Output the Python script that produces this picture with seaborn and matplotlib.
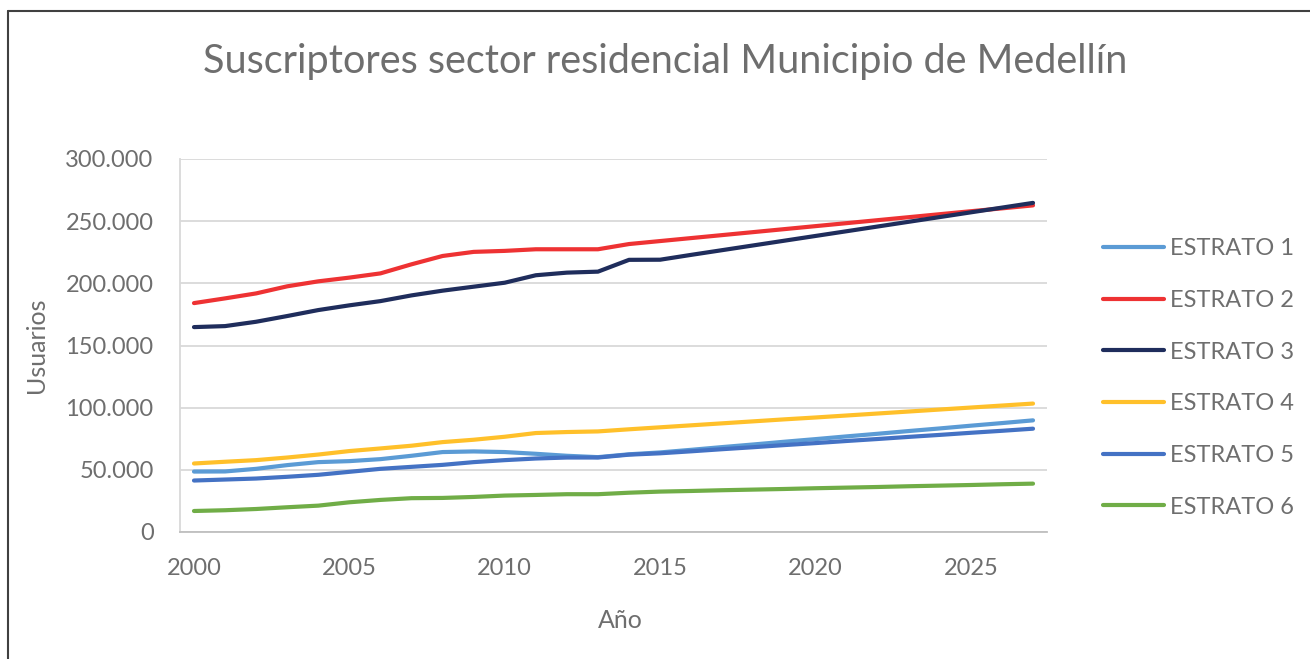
import numpy as np
import pandas as pd
import seaborn as sns
from matplotlib import pyplot as plt
from matplotlib.lines import Line2D
from matplotlib.ticker import FuncFormatter

# values (usuarios per year)
years = list(range(2000, 2028))

estrato_1 = [48600, 48700, 50800, 53800, 56200, 57000, 58600, 61300, 64300, 64800,
             64300, 62900, 61300, 60200, 62500, 64000, 66100, 68300, 70400, 72600,
             74700, 76900, 79000, 81200, 83300, 85500, 87600, 89800]
estrato_2 = [184100, 187900, 191900, 197600, 201600, 204600, 208000, 215300, 222000, 225300,
             226100, 227400, 227400, 227400, 231600, 234000, 236400, 238800, 241200, 243600,
             246000, 248400, 250800, 253200, 255600, 258000, 260300, 262700]
estrato_3 = [164800, 165600, 169100, 173700, 178500, 182300, 185700, 190300, 194100, 197300,
             200500, 206500, 208600, 209400, 218900, 219000, 222900, 226700, 230500, 234300,
             238100, 241900, 245700, 249500, 253300, 257100, 260900, 264700]
estrato_4 = [55100, 56500, 57800, 59900, 62300, 65100, 67200, 69400, 72300, 74200,
             76600, 79600, 80400, 80900, 82600, 84200, 85800, 87400, 89000, 90600,
             92100, 93700, 95300, 96900, 98500, 100100, 101700, 103300]
estrato_5 = [41400, 42200, 43000, 44400, 46000, 48400, 50800, 52400, 54000, 56200,
             57800, 59100, 59900, 59900, 62200, 63300, 64900, 66600, 68200, 69900,
             71500, 73200, 74800, 76500, 78100, 79800, 81400, 83100]
estrato_6 = [16900, 17500, 18500, 19900, 21200, 23900, 25800, 27200, 27400, 28200,
             29300, 29800, 30400, 30400, 31600, 32500, 33000, 33600, 34100, 34600,
             35200, 35700, 36200, 36800, 37300, 37800, 38400, 38900]

names = ["ESTRATO 1", "ESTRATO 2", "ESTRATO 3", "ESTRATO 4", "ESTRATO 5", "ESTRATO 6"]
colors = ["#5B9BD5", "#EE3233", "#1F2D5C", "#FFC02A", "#4472C4", "#70AD47"]

series = [estrato_1, estrato_2, estrato_3, estrato_4, estrato_5, estrato_6]
df = pd.DataFrame({
    "Año": years * len(names),
    "Usuarios": sum(series, []),
    "Estrato": [n for n in names for _ in years],
})

sns.set_style("white")
plt.rcParams['font.family'] = ['Lato', 'DejaVu Sans']
gray = "#6E6E6E"

fig = plt.figure(figsize=(13.1, 6.59), dpi=100)
ax = fig.add_axes([180/1310, 1-532/659, (1047-180)/1310, (532-159)/659])

sns.lineplot(data=df, x="Año", y="Usuarios", hue="Estrato", palette=colors,
             linewidth=3, ax=ax, legend=False)
for ln in ax.lines:
    ln.set_solid_capstyle("round")

ax.set_xlim(1999.55, 2027.45)
ax.set_ylim(0, 300000)
ax.set_yticks(np.arange(0, 300001, 50000))
ax.set_xticks([2000, 2005, 2010, 2015, 2020, 2025])
ax.yaxis.set_major_formatter(FuncFormatter(lambda v, p: f"{int(v):,}".replace(",", ".")))
ax.grid(axis="y", color="#D9D9D9", linewidth=1.3)
ax.set_axisbelow(True)

for side in ["top", "right"]:
    ax.spines[side].set_visible(False)
ax.spines["left"].set_color("#D9D9D9")
ax.spines["bottom"].set_color("#BFBFBF")
ax.spines["left"].set_linewidth(1.3)
ax.spines["bottom"].set_linewidth(1.3)

ax.tick_params(axis="y", length=0, pad=19, labelsize=17, labelcolor=gray)
ax.tick_params(axis="x", length=0, pad=19, labelsize=17, labelcolor=gray)

ax.set_xlabel("")
ax.set_ylabel("")
fig.text(36/1310, 1-345/659, "Usuarios", rotation=90, ha="center", va="center",
         fontsize=18, color=gray)
fig.text(620/1310, 1-620/659, "Año", ha="center", va="center", fontsize=18, color=gray)
fig.text(665/1310, 1-62/659, "Suscriptores sector residencial Municipio de Medellín",
         ha="center", va="center", fontsize=28.5, color=gray)

handles = [Line2D([], [], color=c, linewidth=3, solid_capstyle="round") for c in colors]
leg = fig.legend(handles, names, loc="center left", bbox_to_anchor=(1103/1310, 1-378/659),
                 frameon=False, fontsize=17, handlelength=2.6, handletextpad=0.25,
                 labelspacing=1.3, borderpad=0, borderaxespad=0)
for t in leg.get_texts():
    t.set_color(gray)

# chart border (left and top visible in the crop)
fig.add_artist(Line2D([8/1310, 8/1310], [0, 1-11/659], color="#404040", linewidth=1.5,
                      transform=fig.transFigure))
fig.add_artist(Line2D([8/1310, 1], [1-11/659, 1-11/659], color="#404040", linewidth=1.5,
                      transform=fig.transFigure))

fig.savefig("out.png", dpi=100)
